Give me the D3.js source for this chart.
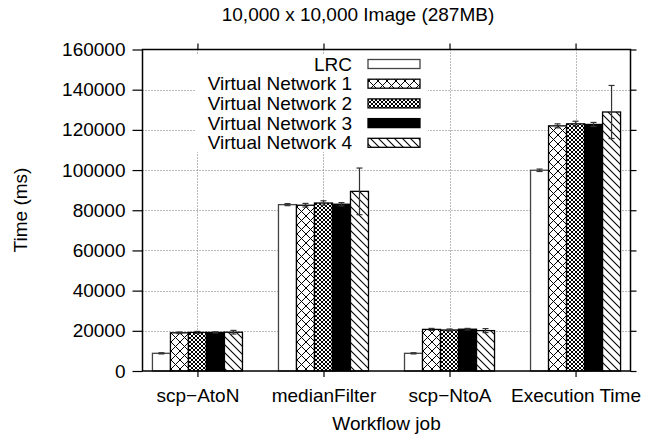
<!DOCTYPE html>
<html>
<head>
<meta charset="utf-8">
<script src="https://cdn.jsdelivr.net/npm/d3@7"></script>
<style>
  html, body { margin: 0; padding: 0; background: #fff; }
  svg { display: block; font-family: "Liberation Sans", Arial, Helvetica, sans-serif; }
</style>
</head>
<body>
<svg id="chart" width="663" height="441"></svg>
<script>
// ---- data ----
const categories = ["scp\u2212AtoN", "medianFilter", "scp\u2212NtoA", "Execution Time"];
const seriesNames = ["LRC", "Virtual Network 1", "Virtual Network 2", "Virtual Network 3", "Virtual Network 4"];
const lrc  = [8800, 82800, 8800, 99900];
const vn1  = [19000, 82500, 20700, 122000];
const vn2  = [19200, 83600, 20400, 123000];
const vn3  = [19200, 83000, 20800, 122700];
const vn4  = [19300, 89400, 20100, 128900];
const lrcErr = [300, 500, 300, 600];
const vn1Err = [400, 900, 500, 1000];
const vn2Err = [500, 1100, 500, 1300];
const vn3Err = [300, 800, 400, 1000];
const vn4Err = [900, 11600, 1000, 13200];
const yTicks = [0, 20000, 40000, 60000, 80000, 100000, 120000, 140000, 160000];
const titleText = "10,000 x 10,000 Image (287MB)";
const xTitle = "Workflow job";
const yTitle = "Time (ms)";

const values = [lrc, vn1, vn2, vn3, vn4];
const errors = [lrcErr, vn1Err, vn2Err, vn3Err, vn4Err];
const fills = ["#fff", "url(#pCross)", "url(#pFine)", "#000", "url(#pDiag)"];

// ---- layout ----
const L = 142.5, R = 630.5, T = 49.5, B = 371;
const svg = d3.select("#chart");

const x = d3.scalePoint().domain(categories).range([L, R]).padding(0.436);
const step = x.step();
const barW = step / 7;
const y = d3.scaleLinear().domain([0, 160000]).range([B, T]);

// ---- patterns ----
const defs = svg.append("defs");
function pattern(id, size, lines, sw) {
  const p = defs.append("pattern").attr("id", id).attr("patternUnits", "userSpaceOnUse")
    .attr("width", size).attr("height", size);
  p.append("rect").attr("width", size).attr("height", size).attr("fill", "#fff");
  lines.forEach(l => p.append("line").attr("x1", l[0]).attr("y1", l[1]).attr("x2", l[2]).attr("y2", l[3])
    .attr("stroke", "#000").attr("stroke-width", sw));
}
pattern("pCross", 9, [[0,0,9,9],[0,9,9,0],[-1,-1,1,1],[8,8,10,10],[-1,10,1,8],[8,1,10,-1]], 1);
pattern("pFine", 4, [[0,0,4,4],[0,4,4,0],[-1,-1,1,1],[3,3,5,5],[-1,5,1,3],[3,1,5,-1]], 1);
pattern("pDiag", 8, [[0,0,8,8],[-1,7,1,9],[7,-1,9,1]], 1.1);

// ---- grid ----
const grid = svg.append("g").attr("stroke", "#777").attr("stroke-width", 1).attr("stroke-dasharray", "1,2");
yTicks.filter(t => t > 0 && t < 160000).forEach(t => {
  grid.append("line").attr("x1", L).attr("x2", R).attr("y1", Math.round(y(t)) + 0.5).attr("y2", Math.round(y(t)) + 0.5);
});
categories.forEach(c => {
  grid.append("line").attr("x1", Math.round(x(c)) + 0.5).attr("x2", Math.round(x(c)) + 0.5).attr("y1", T).attr("y2", B);
});

// ---- bars ----
const bars = svg.append("g");
values.forEach((vals, s) => {
  categories.forEach((c, i) => {
    const x0 = x(c) - 2.5 * barW + s * barW;
    bars.append("rect")
      .attr("x", x0).attr("y", y(vals[i]))
      .attr("width", barW).attr("height", B - y(vals[i]))
      .attr("fill", fills[s]).attr("stroke", s === 0 ? "#444" : "#000").attr("stroke-width", 1.3);
  });
});

// ---- error bars ----
const eb = svg.append("g").attr("stroke", "#333").attr("stroke-width", 1.2);
values.forEach((vals, s) => {
  categories.forEach((c, i) => {
    const cx = x(c) - 2.5 * barW + (s + 0.5) * barW;
    const hi = y(vals[i] + errors[s][i]), lo = y(vals[i] - errors[s][i]);
    eb.append("line").attr("x1", cx).attr("x2", cx).attr("y1", hi).attr("y2", lo);
    eb.append("line").attr("x1", cx - 3).attr("x2", cx + 3).attr("y1", hi).attr("y2", hi);
    eb.append("line").attr("x1", cx - 3).attr("x2", cx + 3).attr("y1", lo).attr("y2", lo);
  });
});

// ---- axes ----
const axLeft = d3.axisLeft(y).tickValues(yTicks).tickSize(10).tickPadding(7).tickFormat(d3.format("d"));
const axRight = d3.axisRight(y).tickValues(yTicks).tickSize(6).tickFormat("");
const axBottom = d3.axisBottom(x).tickSize(6).tickPadding(12);
const axTop = d3.axisTop(x).tickSize(6).tickFormat("");

function styleAxis(g) {
  g.select(".domain").remove();
  g.selectAll(".tick line").attr("stroke", "#000").attr("stroke-width", 1.2);
  g.selectAll("text").attr("fill", "#000").attr("font-size", 19).attr("font-family", "Liberation Sans, Arial, sans-serif");
}
svg.append("g").attr("transform", `translate(${L},0)`).call(axLeft).call(styleAxis);
svg.append("g").attr("transform", `translate(${R},0)`).call(axRight).call(styleAxis);
svg.append("g").attr("transform", `translate(0,${B})`).call(axBottom).call(styleAxis);
svg.append("g").attr("transform", `translate(0,${T})`).call(axTop).call(styleAxis);

// frame
svg.append("rect").attr("x", L).attr("y", T).attr("width", R - L).attr("height", B - T)
  .attr("fill", "none").attr("stroke", "#000").attr("stroke-width", 1.5);

// ---- legend ----
const lg = svg.append("g");
lg.append("rect").attr("x", 196).attr("y", 55).attr("width", 232).attr("height", 97).attr("fill", "#fff");
seriesNames.forEach((n, s) => {
  const cy = 64 + s * 19.7;
  lg.append("text").attr("x", 352).attr("y", cy).attr("dy", "0.35em").attr("text-anchor", "end")
    .attr("font-size", 19).text(n);
  lg.append("rect").attr("x", 368).attr("y", cy - 4.5).attr("width", 52).attr("height", 9)
    .attr("fill", fills[s]).attr("stroke", s === 0 ? "#444" : "#000").attr("stroke-width", 1.3);
});

// ---- titles ----
svg.append("text").attr("x", 358).attr("y", 21).attr("text-anchor", "middle")
  .attr("font-size", 19).text(titleText);
svg.append("text").attr("x", (L + R) / 2).attr("y", 430).attr("text-anchor", "middle")
  .attr("font-size", 19).text(xTitle);
svg.append("text").attr("transform", "translate(27,210) rotate(-90)").attr("text-anchor", "middle")
  .attr("font-size", 19).text(yTitle);
</script>
</body>
</html>
